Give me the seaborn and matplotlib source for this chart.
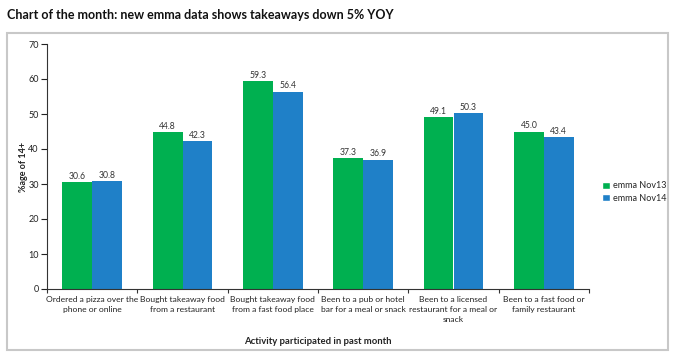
import pandas as pd
import matplotlib.pyplot as plt
import seaborn as sns
from matplotlib.patches import Rectangle, Patch

categories = ['Ordered a pizza over the\nphone or online',
              'Bought takeaway food\nfrom a restaurant',
              'Bought takeaway food\nfrom a fast food place',
              'Been to a pub or hotel\nbar for a meal or snack',
              'Been to a licensed\nrestaurant for a meal or\nsnack',
              'Been to a fast food or\nfamily restaurant']
nov13 = [30.6, 44.8, 59.3, 37.3, 49.1, 45.0]
nov14 = [30.8, 42.3, 56.4, 36.9, 50.3, 43.4]
series = ['emma Nov13', 'emma Nov14']
colors = ['#00b050', '#1f80c8']

df = pd.DataFrame({'activity': categories * 2,
                   'value': nov13 + nov14,
                   'series': [series[0]] * 6 + [series[1]] * 6})

sns.set_style('white')
plt.rcParams['font.family'] = ['Lato', 'DejaVu Sans']
txt = '#222222'

fig = plt.figure(figsize=(6.75, 3.57), dpi=100)
ax = fig.add_axes([47/675, 1-289/357, (589-47)/675, (289-44)/357])

sns.barplot(data=df, x='activity', y='value', hue='series', palette=colors,
            width=0.66, saturation=1, ax=ax, legend=False, errorbar=None,
            linewidth=0)

for c in ax.containers:
    ax.bar_label(c, fmt='%.1f', fontsize=6.2, color='#333333', padding=1)

ax.set_ylim(0, 70)
ax.set_xlim(-0.5, 5.5)
ax.set_yticks(range(0, 71, 10))
ax.set_xticks(range(6))
ax.set_xticks([i - 0.5 for i in range(7)], minor=True)
ax.tick_params(axis='x', which='major', length=0, labelsize=6.1, colors=txt, pad=5)
ax.tick_params(axis='x', which='minor', length=3, width=0.8, color='#333333', bottom=True)
ax.tick_params(axis='y', length=4, width=0.8, labelsize=6.5, colors=txt, left=True, pad=2)
for lbl in ax.get_xticklabels():
    lbl.set_linespacing(1.5)
for s in ['top', 'right']:
    ax.spines[s].set_visible(False)
for s in ['left', 'bottom']:
    ax.spines[s].set_color('#333333')
    ax.spines[s].set_linewidth(0.8)

ax.set_ylabel('%age of 14+', fontsize=6.5, fontweight='bold', color=txt)
ax.yaxis.set_label_coords(-(47-28)/542, 0.5)
ax.set_xlabel('Activity participated in past month', fontsize=6.8, fontweight='bold', color=txt)
ax.xaxis.set_label_coords(0.5, -(337-289)/245)

handles = [Patch(facecolor=colors[i], label=series[i]) for i in range(2)]
fig.legend(handles=handles, loc='center left', bbox_to_anchor=(594/675, 1-192/357),
           frameon=False, fontsize=6.5, handlelength=0.9, handleheight=0.9,
           handletextpad=0.3, labelspacing=0.35)

fig.text(7/675, 1-15/357, 'Chart of the month: new emma data shows takeaways down 5% YOY',
         fontsize=9, fontweight='bold', color='#111111', va='center', ha='left')

fig.patches.append(Rectangle((7/675, 1-350/357), (668-7)/675, (350-33)/357,
                             transform=fig.transFigure, fill=False,
                             edgecolor='#c8c8c8', linewidth=1.5))

fig.savefig('out.png', dpi=100)
